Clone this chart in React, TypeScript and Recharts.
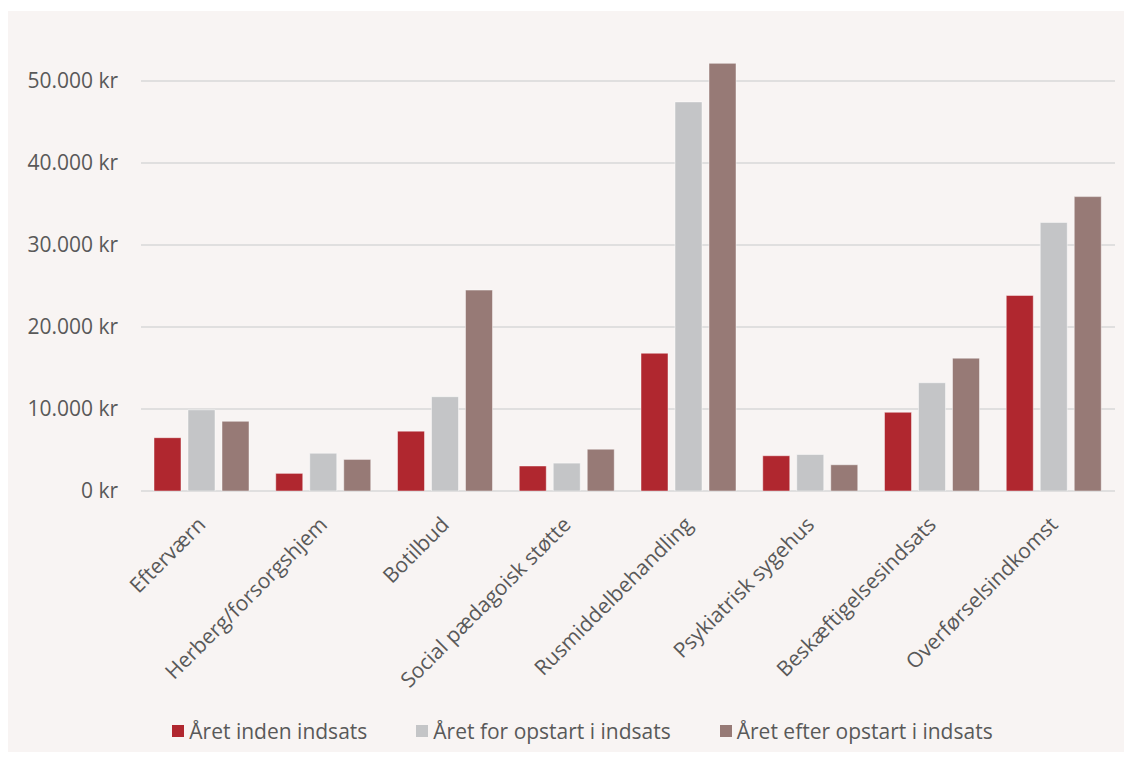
import React from "react";
import { BarChart, Bar, XAxis, YAxis, CartesianGrid, Legend } from "recharts";

const categories = [
  "Efterværn",
  "Herberg/forsorgshjem",
  "Botilbud",
  "Social pædagoisk støtte",
  "Rusmiddelbehandling",
  "Psykiatrisk sygehus",
  "Beskæftigelsesindsats",
  "Overførselsindkomst",
];
const seriesNames = [
  "Året inden indsats",
  "Året for opstart i indsats",
  "Året efter opstart i indsats",
];
const seriesColors = ["#b0272f", "#c4c5c7", "#977a76"];
const aaretInden = [6500, 2150, 7300, 3050, 16800, 4300, 9600, 23850];
const aaretFor = [9900, 4600, 11500, 3400, 47450, 4450, 13200, 32750];
const aaretEfter = [8500, 3850, 24500, 5100, 52150, 3200, 16200, 35900];
const yTicks = [0, 10000, 20000, 30000, 40000, 50000];

const data = categories.map((c, i) => ({
  name: c,
  s0: aaretInden[i],
  s1: aaretFor[i],
  s2: aaretEfter[i],
}));

const FONT = "'Open Sans', sans-serif";
const TEXT = "#595959";

const fmt = (v: number) =>
  (v === 0 ? "0" : v.toLocaleString("en-US").replace(/,/g, ".")) + " kr";

const XTick = (props: any) => {
  const { x, y, payload } = props;
  const ax = x + 5;
  const ay = y + 35;
  return (
    <text
      x={ax}
      y={ay}
      transform={`rotate(-45, ${ax}, ${ay})`}
      textAnchor="end"
      fill={TEXT}
      fontSize={21}
      fontFamily={FONT}
    >
      {payload.value}
    </text>
  );
};

const LegendContent = () => (
  <div
    style={{
      height: 30,
      display: "flex",
      justifyContent: "center",
      alignItems: "center",
      paddingLeft: 42,
      fontFamily: FONT,
      fontSize: 21,
      color: TEXT,
      boxSizing: "border-box",
    }}
  >
    {seriesNames.map((n, i) => (
      <div
        key={n}
        style={{ display: "flex", alignItems: "center", marginLeft: i === 0 ? 0 : 49 }}
      >
        <span
          style={{
            display: "inline-block",
            width: 12,
            height: 12,
            background: seriesColors[i],
            marginRight: 5,
          }}
        />
        <span style={{ whiteSpace: "nowrap" }}>{n}</span>
      </div>
    ))}
  </div>
);

export default function App() {
  return (
    <div style={{ paddingTop: 3, marginBottom: -8 }}>
      <BarChart
        width={1124}
        height={749}
        data={data}
        margin={{ top: 29, right: 17, bottom: 14, left: 0 }}
        barSize={27}
        barGap={7}
        style={{ background: "#f8f4f3" }}
      >
        <CartesianGrid
          vertical={false}
          horizontalValues={yTicks}
          stroke="#d9d9d9"
          strokeWidth={1.5}
        />
        <XAxis
          dataKey="name"
          interval={0}
          tickLine={false}
          axisLine={false}
          tickSize={0}
          tickMargin={0}
          height={225}
          tick={<XTick />}
        />
        <YAxis
          domain={[0, 55000]}
          ticks={yTicks}
          allowDataOverflow
          tickFormatter={fmt}
          tickLine={false}
          axisLine={false}
          tickSize={0}
          tickMargin={23}
          width={133}
          tick={{ fill: TEXT, fontSize: 21, fontFamily: FONT }}
        />
        <Legend verticalAlign="bottom" content={<LegendContent />} />
        <Bar dataKey="s0" name={seriesNames[0]} fill={seriesColors[0]} stroke="#ffffff" strokeOpacity={0.45} strokeWidth={1} isAnimationActive={false} />
        <Bar dataKey="s1" name={seriesNames[1]} fill={seriesColors[1]} stroke="#ffffff" strokeOpacity={0.45} strokeWidth={1} isAnimationActive={false} />
        <Bar dataKey="s2" name={seriesNames[2]} fill={seriesColors[2]} stroke="#ffffff" strokeOpacity={0.45} strokeWidth={1} isAnimationActive={false} />
      </BarChart>
    </div>
  );
}
